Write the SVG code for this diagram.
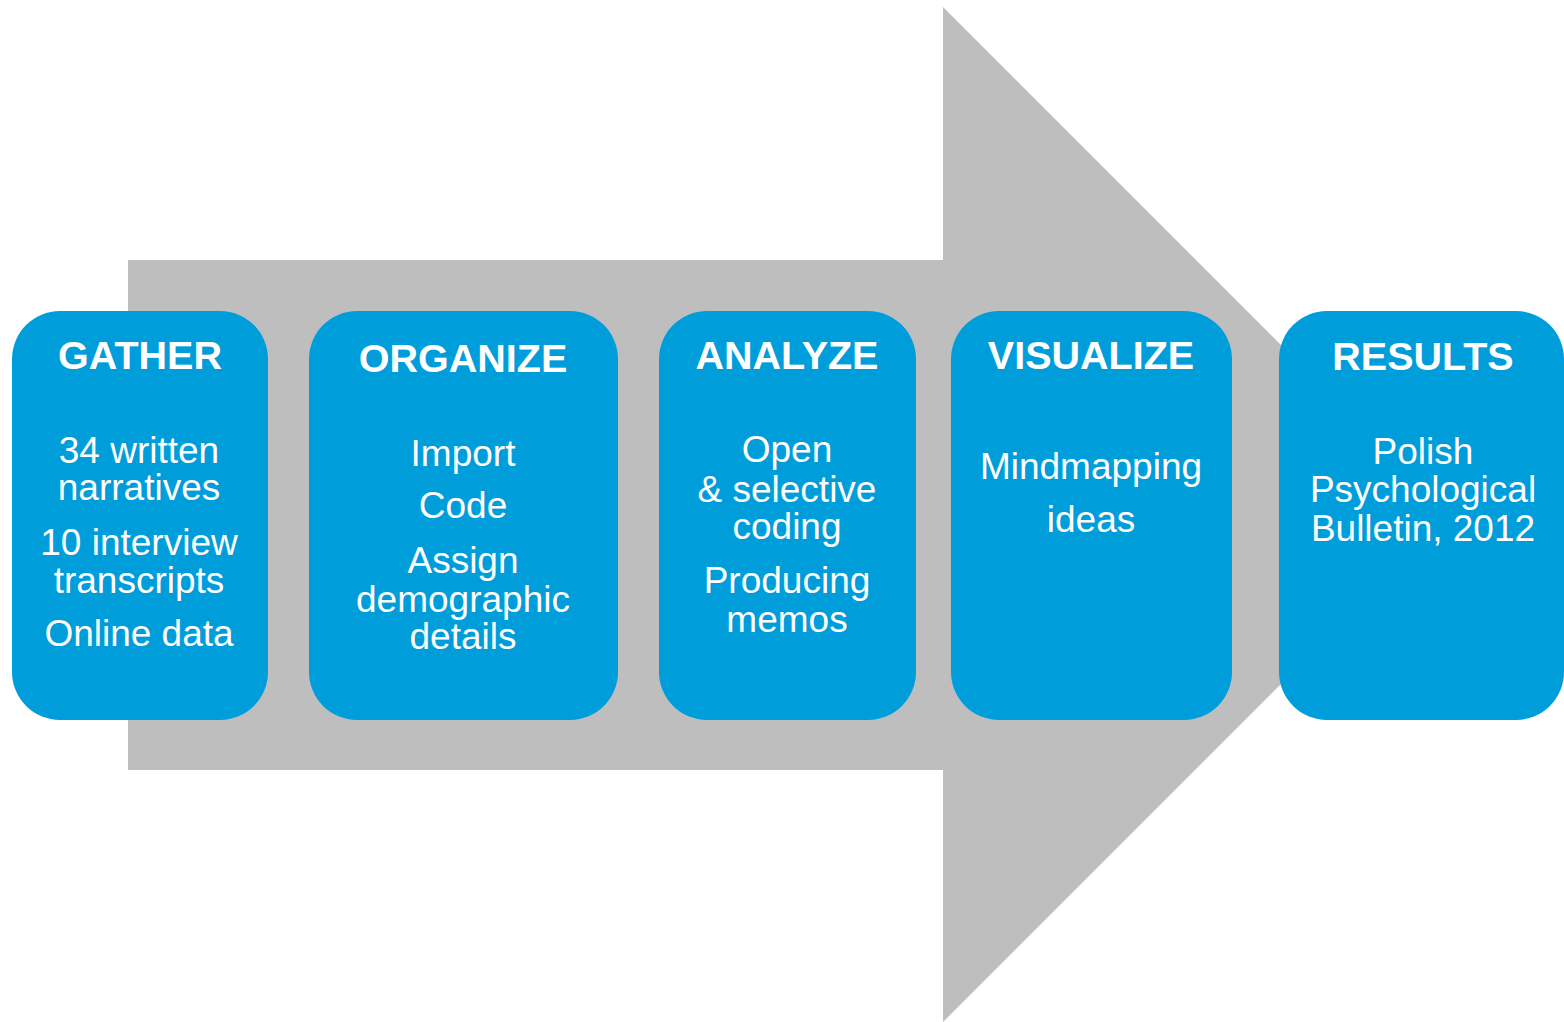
<svg xmlns="http://www.w3.org/2000/svg" width="1564" height="1022" viewBox="0 0 1564 1022">
  <style>
    .box { fill: #009DDB; }
    .title { font-family: "Liberation Sans", Arial, sans-serif; font-weight: bold; font-size: 39.5px; fill: #FFFFFF; text-anchor: middle; }
    .body { font-family: "Liberation Sans", Arial, sans-serif; font-size: 37px; fill: #FFFFFF; text-anchor: middle; }
  </style>
  <rect width="1564" height="1022" fill="#FFFFFF"/>
  <g id="connectors">
    <polygon id="big-arrow" points="128,260 943,260 943,7 1450.5,514.5 943,1022 943,770 128,770" fill="#BEBEBE"/>
  </g>
  <g id="gather">
    <rect class="box" x="12" y="311" width="256" height="409" rx="48" ry="48"/>
    <text class="title" x="140" y="369">GATHER</text>
    <text class="body" x="139" y="463">34 written</text>
    <text class="body" x="139" y="500">narratives</text>
    <text class="body" x="139" y="555">10 interview</text>
    <text class="body" x="139" y="593">transcripts</text>
    <text class="body" x="139" y="646">Online data</text>
  </g>
  <g id="organize">
    <rect class="box" x="309" y="311" width="309" height="409" rx="48" ry="48"/>
    <text class="title" x="463" y="372">ORGANIZE</text>
    <text class="body" x="463" y="466">Import</text>
    <text class="body" x="463" y="518">Code</text>
    <text class="body" x="463" y="573">Assign</text>
    <text class="body" x="463" y="612">demographic</text>
    <text class="body" x="463" y="649">details</text>
  </g>
  <g id="analyze">
    <rect class="box" x="659" y="311" width="257" height="409" rx="48" ry="48"/>
    <text class="title" x="787" y="369">ANALYZE</text>
    <text class="body" x="787" y="462">Open</text>
    <text class="body" x="787" y="502">&amp; selective</text>
    <text class="body" x="787" y="539">coding</text>
    <text class="body" x="787" y="593">Producing</text>
    <text class="body" x="787" y="632">memos</text>
  </g>
  <g id="visualize">
    <rect class="box" x="951" y="311" width="281" height="409" rx="48" ry="48"/>
    <text class="title" x="1091" y="369">VISUALIZE</text>
    <text class="body" x="1091" y="479">Mindmapping</text>
    <text class="body" x="1091" y="532">ideas</text>
  </g>
  <g id="results">
    <rect class="box" x="1279" y="311" width="285" height="409" rx="48" ry="48"/>
    <text class="title" x="1423" y="370">RESULTS</text>
    <text class="body" x="1423" y="464">Polish</text>
    <text class="body" x="1423" y="502">Psychological</text>
    <text class="body" x="1423" y="541">Bulletin, 2012</text>
  </g>
</svg>
